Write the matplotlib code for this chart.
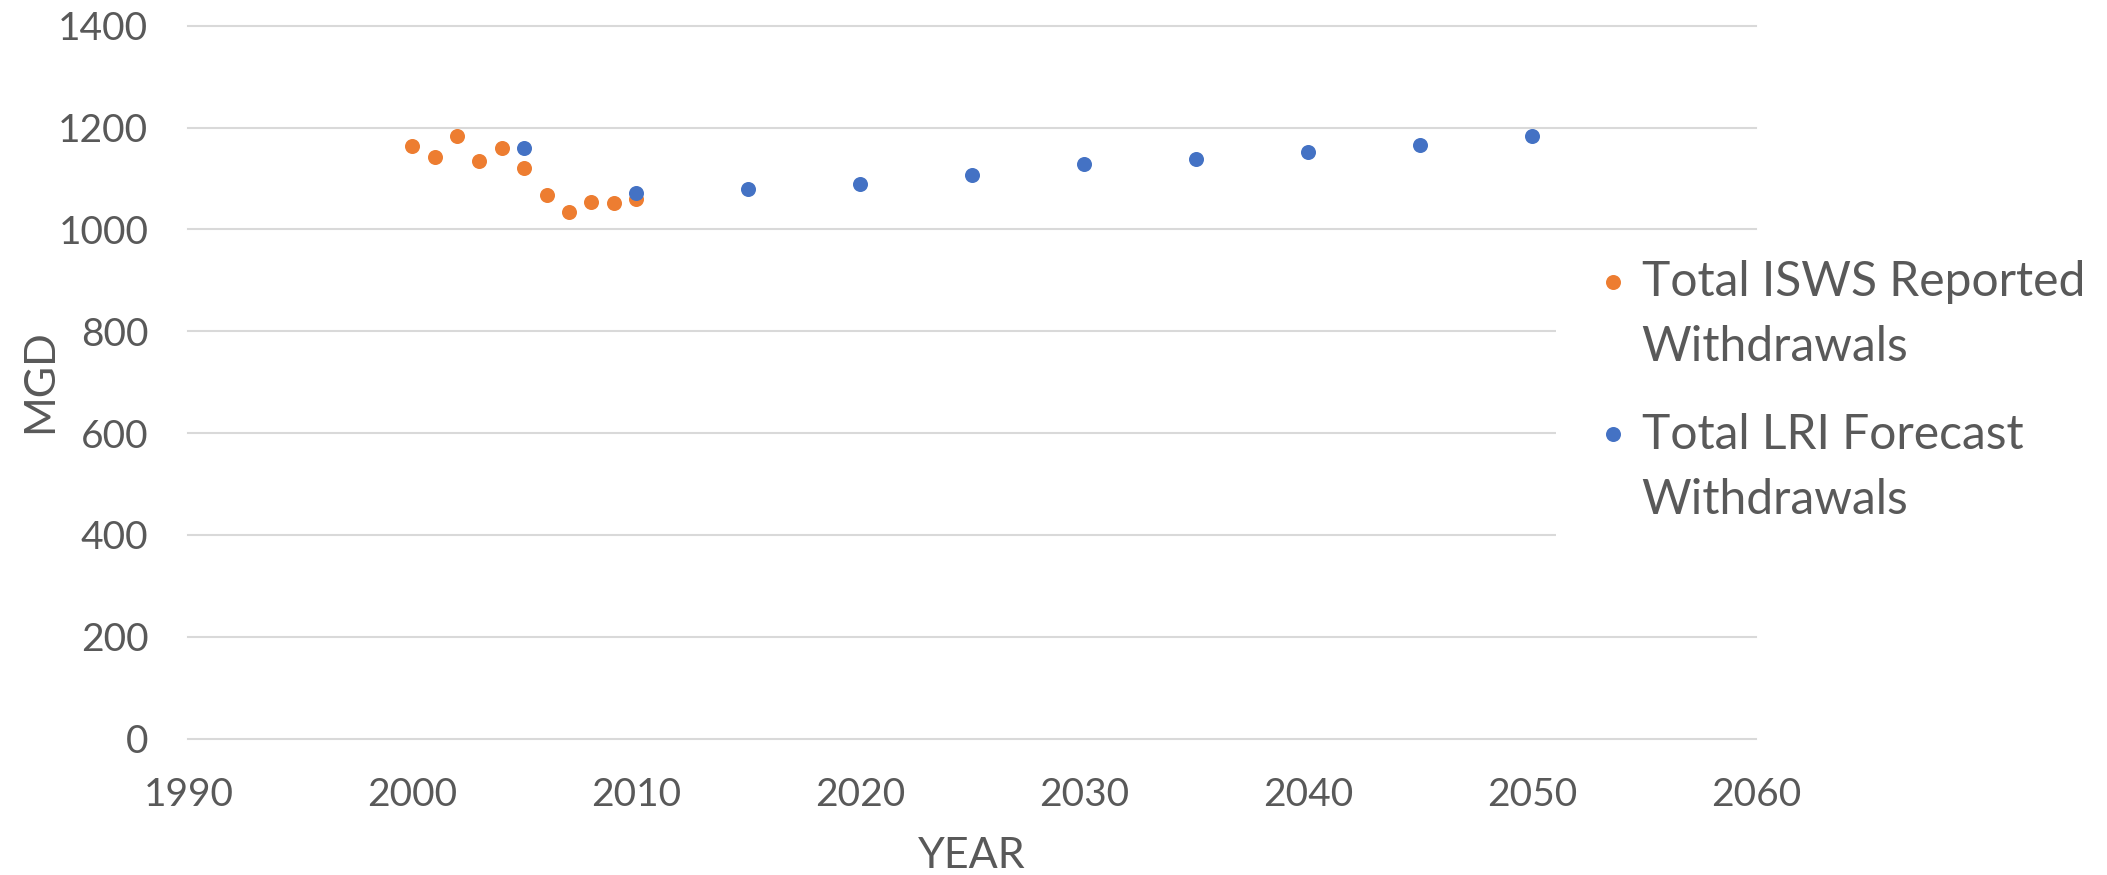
import matplotlib
matplotlib.use("Agg")
import matplotlib.pyplot as plt
from matplotlib.lines import Line2D
from matplotlib.patches import Rectangle

# ---- data ----
isws_years = [2000, 2001, 2002, 2003, 2004, 2005, 2006, 2007, 2008, 2009, 2010]
isws_values = [1164, 1143, 1184, 1134, 1160, 1120, 1068, 1034, 1054, 1051, 1059]
lri_years = [2005, 2010, 2015, 2020, 2025, 2030, 2035, 2040, 2045, 2050]
lri_values = [1160, 1072, 1079, 1090, 1107, 1128, 1138, 1151, 1165, 1183]
series_labels = ["Total ISWS Reported\nWithdrawals", "Total LRI Forecast\nWithdrawals"]
x_ticks = [1990, 2000, 2010, 2020, 2030, 2040, 2050, 2060]
y_ticks = [0, 200, 400, 600, 800, 1000, 1200, 1400]

W, H = 2107, 875
ORANGE = "#ED7D31"
BLUE = "#4472C4"
TXT = "#595959"
GRID = "#D9D9D9"
FONT = "Lato"

plt.rcParams["font.family"] = [FONT, "DejaVu Sans"]

def fx(x):
    return x / W

def fy(y):
    return 1 - y / H

fig = plt.figure(figsize=(W / 100, H / 100), dpi=100)
left, right, top, bottom = 188.3, 1756, 25.7, 738.5
ax = fig.add_axes([fx(left), fy(bottom), fx(right) - fx(left), fy(top) - fy(bottom)])

ax.scatter(isws_years, isws_values, s=117, color=ORANGE, linewidths=0, zorder=3)
ax.scatter(lri_years, lri_values, s=117, color=BLUE, linewidths=0, zorder=4)

ax.set_xlim(1990, 2060)
ax.set_ylim(0, 1400)
ax.set_xticks(x_ticks)
ax.set_yticks(y_ticks)
ax.set_xticklabels([str(t) for t in x_ticks])
ax.set_yticklabels([str(t) for t in y_ticks])
for s in ax.spines.values():
    s.set_visible(False)
ax.tick_params(axis="both", length=0, labelsize=28, labelcolor=TXT)
ax.tick_params(axis="y", pad=28.8)
ax.tick_params(axis="x", pad=28)
ax.grid(axis="y", color=GRID, linewidth=1.5)
ax.set_axisbelow(True)
for gl in ax.get_ygridlines():
    gl.set_clip_on(False)

# axis titles
fig.text(fx(40), fy(381), "MGD", rotation=90, ha="center", va="center",
         fontsize=31, color=TXT)
fig.text(fx(972), fy(856), "YEAR", ha="center", va="center",
         fontsize=31, color=TXT)

# legend (white box over the plot area, as in the original)
fig.patches.append(Rectangle((fx(1556), fy(610)), fx(W) - fx(1556), fy(245) - fy(610),
                             transform=fig.transFigure, facecolor="white",
                             edgecolor="none", zorder=1))
leg_colors = [ORANGE, BLUE]
leg_marker_y = [281.7, 434.3]
leg_base_y = [295.7, 449.0]
line_gap = 65
for lab, col, my, by in zip(series_labels, leg_colors, leg_marker_y, leg_base_y):
    fig.add_artist(Line2D([fx(1612.7)], [fy(my)], transform=fig.transFigure,
                          marker="o", markersize=10.8, color=col,
                          markeredgewidth=0, linestyle="none", zorder=2))
    for i, ln in enumerate(lab.split("\n")):
        fig.text(fx(1641.7), fy(by + i * line_gap), ln, ha="left", va="baseline",
                 fontsize=34.6, color=TXT, zorder=3)

fig.savefig("out.png", dpi=100, facecolor="white")
